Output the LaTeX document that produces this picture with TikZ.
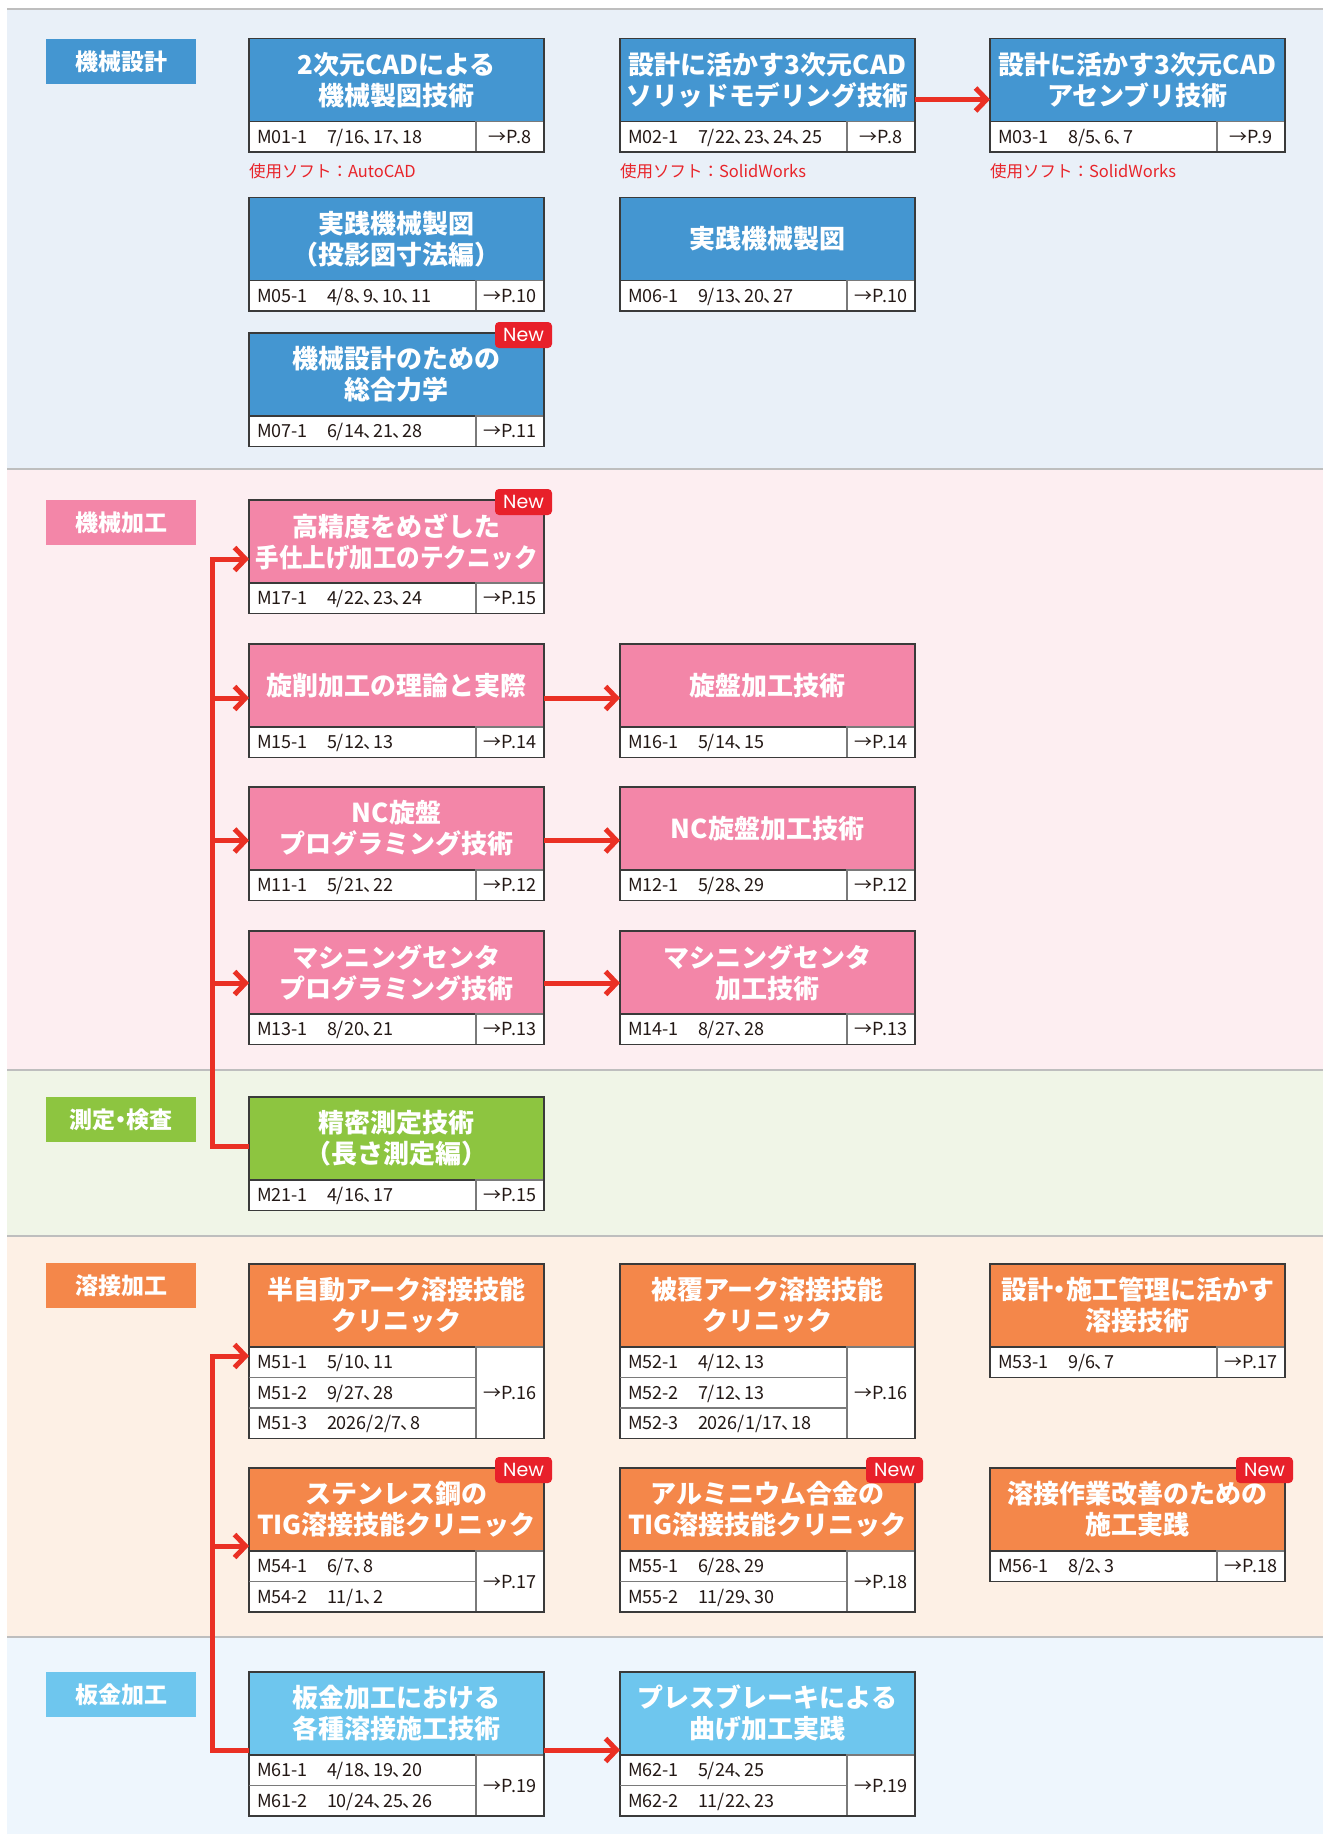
\documentclass[tikz,border=0pt]{standalone}
\usepackage{fontspec}
\usepackage{graphicx}
\usetikzlibrary{arrows.meta,calc}
\setmainfont{Noto Sans CJK JP}
\newfontfamily\jp{Noto Sans CJK JP}
\newfontfamily\jpp[RawFeature=+palt]{Noto Sans CJK JP}
\newfontfamily\pop{Poppins}
\newcommand\nd{{\jpp ・}}
\definecolor{bgA}{HTML}{E9F0F8}
\definecolor{bgB}{HTML}{FDEEF1}
\definecolor{bgC}{HTML}{F0F5E7}
\definecolor{bgD}{HTML}{FDF0E5}
\definecolor{bgE}{HTML}{EEF6FD}
\definecolor{cBlue}{HTML}{4496D1}
\definecolor{cPink}{HTML}{F386A8}
\definecolor{cGreen}{HTML}{8DC540}
\definecolor{cOrange}{HTML}{F4874A}
\definecolor{cSky}{HTML}{6EC6EE}
\definecolor{arrRed}{HTML}{EA3024}
\definecolor{newRed}{HTML}{E8202A}
\definecolor{frameC}{HTML}{3A3A3A}
\definecolor{innerC}{HTML}{7A7A7A}
\definecolor{sepC}{HTML}{BEBEBE}
\definecolor{softRed}{HTML}{E8242A}
\definecolor{txtC}{HTML}{231815}
\newlength\fitw
\newcommand\fitline[1]{\settowidth\fitw{#1}\ifdim\fitw>282pt\relax\scalebox{\fpeval{282pt/\fitw}}[1]{#1}\else#1\fi}
\tikzset{
  hdr/.style={draw=frameC, line width=1.6pt, outer sep=0pt, minimum width=295pt, minimum height=83pt, inner sep=0pt, text=white, align=center, font=\jp\bfseries\fontsize{26}{31}\selectfont},
  tbl/.style={draw=frameC, line width=1.6pt, outer sep=0pt, fill=white, minimum width=295pt, inner sep=0pt},
  pg/.style={draw=innerC, line width=1.3pt, outer sep=0pt, minimum width=68pt, inner sep=0pt, font=\jpp\fontsize{18}{20}\selectfont, text=txtC},
  rowtxt/.style={inner sep=0pt, outer sep=0pt, font=\jpp\fontsize{18}{20}\selectfont, text=txtC},
  frame/.style={draw=frameC, line width=1.6pt},
  rowline/.style={draw=innerC, line width=1.3pt},
  lab/.style={minimum width=150pt, minimum height=45pt, inner sep=0pt, outer sep=0pt, text=white, font=\jp\bfseries\fontsize{23}{26}\selectfont},
  badge/.style={fill=newRed, rounded corners=4pt, minimum width=57pt, minimum height=26pt, inner sep=0pt, outer sep=0pt, text=white, font=\pop\fontsize{19}{20}\selectfont},
  soft/.style={inner sep=0pt, outer sep=0pt, text=softRed, font=\jp\fontsize{16.5}{18}\selectfont},
  link/.style={draw=arrRed, line width=5pt},
  arr/.style={link, -{Straight Barb[length=11pt,width=23pt]}},
  sep/.style={draw=sepC, line width=2pt},
}
\newcommand\cbox[7]{%
  \node[hdr, fill=#4, anchor=north west] (#1) at (#2,#3) {#5};
  \node[tbl, anchor=north west, minimum height={#6*30.5pt}] (#1t) at (#1.south west) {};
  \node[pg, anchor=north east, minimum height={#6*30.5pt}] (#1p) at (#1.south east) {#7};
  \draw[frame] (#1.north west) rectangle (#1t.south east);
}
\newcommand\crow[4]{%
  \node[rowtxt, anchor=base west] (#1r#2a) at ($(#1t.north west)+(8,{(#2-0.5)*30.5+6.5})$) {#3};
  \node[rowtxt, anchor=base west] (#1r#2b) at ($(#1t.north west)+(78,{(#2-0.5)*30.5+6.5})$) {#4};
  \ifnum#2>1 \draw[rowline] ($(#1t.north west)+(0,{(#2-1)*30.5})$) -- ($(#1p.north west)+(0,{(#2-1)*30.5})$);\fi
}
\newcommand\newbadge[1]{\node[badge, anchor=north east] (#1new) at ($(#1.north east)+(8,-11)$) {New};}
\begin{document}
\begin{tikzpicture}[x=1pt,y=-1pt]
\useasboundingbox (0,0) rectangle (1326,1834);
\fill[white] (0,0) rectangle (1326,1834);
% bands
\fill[bgA] (7,9) rectangle (1323,469);
\fill[bgB] (7,469) rectangle (1323,1070);
\fill[bgC] (7,1070) rectangle (1323,1236);
\fill[bgD] (7,1236) rectangle (1323,1637);
\fill[bgE] (7,1637) rectangle (1323,1834);
\draw[sep] (7,9) -- (1323,9);
\draw[sep] (7,469) -- (1323,469);
\draw[sep] (7,1070) -- (1323,1070);
\draw[sep] (7,1236) -- (1323,1236);
\draw[sep] (7,1637) -- (1323,1637);
% labels
\node[lab, fill=cBlue, anchor=north west] (L1) at (46,39) {機械設計};
\node[lab, fill=cPink, anchor=north west] (L2) at (46,500) {機械加工};
\node[lab, fill=cGreen, anchor=north west] (L3) at (46,1097) {測定\nd 検査};
\node[lab, fill=cOrange, anchor=north west] (L4) at (46,1263) {溶接加工};
\node[lab, fill=cSky, anchor=north west] (L5) at (46,1672) {板金加工};
% section 1
\cbox{M01}{249}{38.5}{cBlue}{\fitline{2次元CADによる}\\\fitline{機械製図技術}}{1}{→P.8}
\crow{M01}{1}{M01-1}{7/16、17、18}
\cbox{M02}{620}{38.5}{cBlue}{\fitline{設計に活かす3次元CAD}\\\fitline{ソリッドモデリング技術}}{1}{→P.8}
\crow{M02}{1}{M02-1}{7/22、23、24、25}
\cbox{M03}{990}{38.5}{cBlue}{\fitline{設計に活かす3次元CAD}\\\fitline{アセンブリ技術}}{1}{→P.9}
\crow{M03}{1}{M03-1}{8/5、6、7}
\node[soft, anchor=west] (S01) at (249,171) {使用ソフト：AutoCAD};
\node[soft, anchor=west] (S02) at (620,171) {使用ソフト：SolidWorks};
\node[soft, anchor=west] (S03) at (990,171) {使用ソフト：SolidWorks};
\cbox{M05}{249}{197.5}{cBlue}{\fitline{実践機械製図}\\\fitline{（投影図寸法編）}}{1}{→P.10}
\crow{M05}{1}{M05-1}{4/8、9、10、11}
\cbox{M06}{620}{197.5}{cBlue}{\fitline{実践機械製図}}{1}{→P.10}
\crow{M06}{1}{M06-1}{9/13、20、27}
\cbox{M07}{249}{333}{cBlue}{\fitline{機械設計のための}\\\fitline{総合力学}}{1}{→P.11}
\crow{M07}{1}{M07-1}{6/14、21、28}
\newbadge{M07}
% section 2
\cbox{M17}{249}{500}{cPink}{\fitline{高精度をめざした}\\\fitline{手仕上げ加工のテクニック}}{1}{→P.15}
\crow{M17}{1}{M17-1}{4/22、23、24}
\newbadge{M17}
\cbox{M15}{249}{644}{cPink}{\fitline{旋削加工の理論と実際}}{1}{→P.14}
\crow{M15}{1}{M15-1}{5/12、13}
\cbox{M16}{620}{644}{cPink}{\fitline{旋盤加工技術}}{1}{→P.14}
\crow{M16}{1}{M16-1}{5/14、15}
\cbox{M11}{249}{787}{cPink}{\fitline{NC旋盤}\\\fitline{プログラミング技術}}{1}{→P.12}
\crow{M11}{1}{M11-1}{5/21、22}
\cbox{M12}{620}{787}{cPink}{\fitline{NC旋盤加工技術}}{1}{→P.12}
\crow{M12}{1}{M12-1}{5/28、29}
\cbox{M13}{249}{931}{cPink}{\fitline{マシニングセンタ}\\\fitline{プログラミング技術}}{1}{→P.13}
\crow{M13}{1}{M13-1}{8/20、21}
\cbox{M14}{620}{931}{cPink}{\fitline{マシニングセンタ}\\\fitline{加工技術}}{1}{→P.13}
\crow{M14}{1}{M14-1}{8/27、28}
% section 3
\cbox{M21}{249}{1097}{cGreen}{\fitline{精密測定技術}\\\fitline{（長さ測定編）}}{1}{→P.15}
\crow{M21}{1}{M21-1}{4/16、17}
% section 4
\cbox{M51}{249}{1264}{cOrange}{\fitline{半自動アーク溶接技能}\\\fitline{クリニック}}{3}{→P.16}
\crow{M51}{1}{M51-1}{5/10、11}
\crow{M51}{2}{M51-2}{9/27、28}
\crow{M51}{3}{M51-3}{2026/2/7、8}
\cbox{M52}{620}{1264}{cOrange}{\fitline{被覆アーク溶接技能}\\\fitline{クリニック}}{3}{→P.16}
\crow{M52}{1}{M52-1}{4/12、13}
\crow{M52}{2}{M52-2}{7/12、13}
\crow{M52}{3}{M52-3}{2026/1/17、18}
\cbox{M53}{990}{1264}{cOrange}{\fitline{設計\nd 施工管理に活かす}\\\fitline{溶接技術}}{1}{→P.17}
\crow{M53}{1}{M53-1}{9/6、7}
\cbox{M54}{249}{1468}{cOrange}{\fitline{ステンレス鋼の}\\\fitline{TIG溶接技能クリニック}}{2}{→P.17}
\crow{M54}{1}{M54-1}{6/7、8}
\crow{M54}{2}{M54-2}{11/1、2}
\newbadge{M54}
\cbox{M55}{620}{1468}{cOrange}{\fitline{アルミニウム合金の}\\\fitline{TIG溶接技能クリニック}}{2}{→P.18}
\crow{M55}{1}{M55-1}{6/28、29}
\crow{M55}{2}{M55-2}{11/29、30}
\newbadge{M55}
\cbox{M56}{990}{1468}{cOrange}{\fitline{溶接作業改善のための}\\\fitline{施工実践}}{1}{→P.18}
\crow{M56}{1}{M56-1}{8/2、3}
\newbadge{M56}
% section 5
\cbox{M61}{249}{1672}{cSky}{\fitline{板金加工における}\\\fitline{各種溶接施工技術}}{2}{→P.19}
\crow{M61}{1}{M61-1}{4/18、19、20}
\crow{M61}{2}{M61-2}{10/24、25、26}
\cbox{M62}{620}{1672}{cSky}{\fitline{プレスブレーキによる}\\\fitline{曲げ加工実践}}{2}{→P.19}
\crow{M62}{1}{M62-1}{5/24、25}
\crow{M62}{2}{M62-2}{11/22、23}
% connectors
\coordinate (a23) at (0,99.5);
\draw[arr] (M02.east |- a23) -- (M03.west |- a23);
\coordinate (j17) at (212,559);
\coordinate (j15) at (212,698);
\coordinate (j11) at (212,840.5);
\coordinate (j13) at (212,983);
\coordinate (j21) at (212,1146);
\draw[link] (j17) -- (j21) -- (M21.west |- j21);
\draw[arr] (j15) -- (j17) -- (M17.west |- j17);
\draw[arr] (j15) -- (M15.west |- j15);
\draw[arr] (j11) -- (M11.west |- j11);
\draw[arr] (j13) -- (M13.west |- j13);
\draw[arr] (M15.east |- j15) -- (M16.west |- j15);
\draw[arr] (M11.east |- j11) -- (M12.west |- j11);
\draw[arr] (M13.east |- j13) -- (M14.west |- j13);
\coordinate (w51) at (212,1356);
\coordinate (w54) at (212,1546);
\coordinate (w61) at (212,1750);
\draw[link] (w51) -- (w61) -- (M61.west |- w61);
\draw[arr] (w54) -- (w51) -- (M51.west |- w51);
\draw[arr] (w54) -- (M54.west |- w54);
\draw[arr] (M61.east |- w61) -- (M62.west |- w61);
\end{tikzpicture}
\end{document}
